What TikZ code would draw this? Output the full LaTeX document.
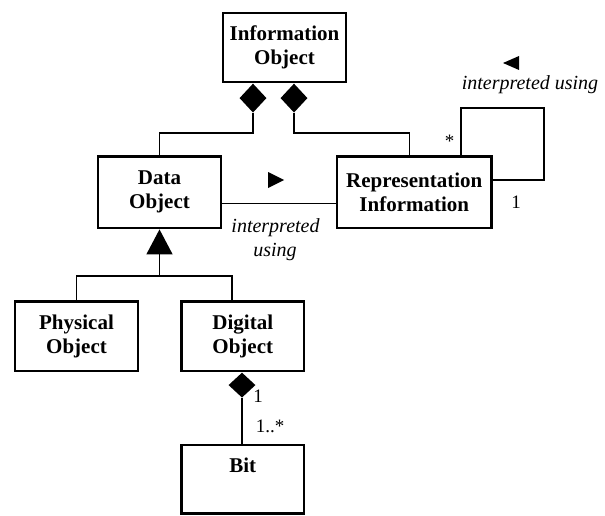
\documentclass[tikz,border=0pt]{standalone}
\usepackage{fontspec}
\setmainfont{Liberation Serif}
\usetikzlibrary{shapes.geometric,arrows.meta}
\begin{document}
\begin{tikzpicture}[x=1pt,y=-1pt,
  classbox/.style={draw,line width=2.8pt,rectangle,inner sep=0pt,align=center,
    font=\fontsize{21}{24}\selectfont\bfseries},
  comp/.style={diamond,fill=black,draw=none,inner sep=0pt,anchor=north,
    minimum width=27pt,minimum height=29pt},
  assoc/.style={line width=1.5pt},
  role/.style={font=\fontsize{20}{24}\selectfont\itshape,inner sep=0pt,anchor=base},
  mult/.style={font=\fontsize{19}{22}\selectfont,inner sep=0pt,anchor=base}]
\useasboundingbox (0,0) rectangle (605,516);

% classes
\node[classbox,minimum width=123pt,minimum height=69pt] (io) at (284.5,47.5) {Information\\Object};
\node[classbox,minimum width=123pt,minimum height=71.5pt] (data) at (159.5,192.25) {Data\\Object};
\node[classbox,minimum width=154.5pt,minimum height=71.5pt] (repr) at (414.25,192.25) {Representation\\Information};
\node[classbox,minimum width=123pt,minimum height=69.5pt] (phys) at (76.5,336.25) {Physical\\Object};
\node[classbox,minimum width=122.5pt,minimum height=69.5pt] (digi) at (242.75,336.25) {Digital\\Object};
\node[classbox,minimum width=122.5pt,minimum height=68.5pt] (bit) at (242.75,479.25) {Bit\\\phantom{Object}};

% composition: information object
\node[comp] (dl) at ([xshift=-31.5pt]io.south) {};
\node[comp] (dr) at ([xshift=9.5pt]io.south) {};
\draw[assoc] (dl.south) -- ++(0,20) -| (data.north);
\draw[assoc] (dr.south) -- ++(0,20) -| ([xshift=-5pt]repr.north);

% interpreted using: data object -> representation information
\draw[assoc] ([yshift=-11pt]data.east) -- ([yshift=-11pt]repr.west);
\fill (268,172) -- (284,180) -- (268,188) -- cycle;
\node[role] (iu1) at (275.5,232) {interpreted};
\node[role] (iu2) at (275,256) {using};

% interpreted using: representation information -> itself
\coordinate (loopc) at (544,108);
\draw[assoc] ([xshift=46.75pt]repr.north) |- (loopc) |- ([yshift=12.25pt]repr.east);
\fill (519,56) -- (503,63) -- (519,70) -- cycle;
\node[role] (iu3) at (530,90) {interpreted using};
\node[mult] (m1) at (449.5,148) {*};
\node[mult] (m2) at (516,208) {1};

% generalization
\coordinate (gen) at (159.5,276);
\draw[assoc,-{Triangle[length=25pt,width=26pt]}] (gen) -- (data.south);
\draw[assoc] (phys.north) |- (gen) -| ([xshift=-10.75pt]digi.north);

% composition: digital object of bits
\node[comp,minimum height=25pt] (db) at ([xshift=-0.75pt]digi.south) {};
\draw[assoc] (db.south) -- (db.south |- bit.north);
\node[mult] (m3) at (258,402) {1};
\node[mult] (m4) at (270,432) {1..*};
\end{tikzpicture}
\end{document}
